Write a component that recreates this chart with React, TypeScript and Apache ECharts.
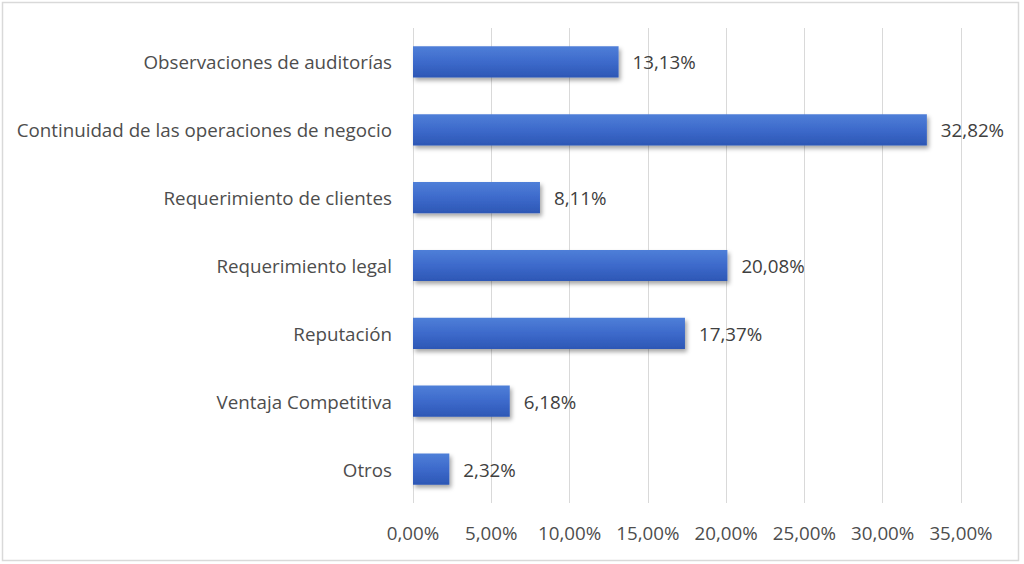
import React, { useEffect, useRef } from "react";
import * as echarts from "echarts";

const categories = [
  "Observaciones de auditorías",
  "Continuidad de las operaciones de negocio",
  "Requerimiento de clientes",
  "Requerimiento legal",
  "Reputación",
  "Ventaja Competitiva",
  "Otros",
];
const values = [13.13, 32.82, 8.11, 20.08, 17.37, 6.18, 2.32];
const axisMin = 0;
const axisMax = 35;
const axisStep = 5;

const pct = (v: number) => v.toFixed(2).replace(".", ",") + "%";

const FONT = "'Open Sans', Lato, sans-serif";
const TEXT = "#4d4d4d";
const SIZE = 18.75;

export default function App() {
  const ref = useRef<HTMLDivElement>(null);

  useEffect(() => {
    if (!ref.current) return;
    const chart = echarts.init(ref.current, undefined, { renderer: "svg" });
    chart.setOption({
      animation: false,
      backgroundColor: "#ffffff",
      textStyle: { fontFamily: FONT },
      graphic: [
        {
          type: "rect",
          shape: { x: 2.5, y: 2.5, width: 1016, height: 558 },
          style: { fill: "none", stroke: "#d9d9d9", lineWidth: 1.5 },
          silent: true,
        },
      ],
      grid: { left: 413, right: 63, top: 28, bottom: 61, containLabel: false },
      xAxis: {
        type: "value",
        min: axisMin,
        max: axisMax,
        interval: axisStep,
        axisLine: { show: false },
        axisTick: { show: false },
        splitLine: { show: true, lineStyle: { color: "#d9d9d9", width: 1 } },
        axisLabel: {
          formatter: (v: number) => pct(v),
          color: TEXT,
          fontSize: SIZE,
          fontFamily: FONT,
          margin: 20,
        },
      },
      yAxis: {
        type: "category",
        data: categories,
        inverse: true,
        axisLine: { show: false },
        axisTick: { show: false },
        axisLabel: {
          color: TEXT,
          fontSize: SIZE,
          fontFamily: FONT,
          margin: 21,
        },
      },
      series: [
        {
          type: "bar",
          data: values,
          barCategoryGap: "54%",
          itemStyle: {
            color: new echarts.graphic.LinearGradient(0, 0, 0, 1, [
              { offset: 0, color: "#4f7fd8" },
              { offset: 0.5, color: "#3d6acb" },
              { offset: 1, color: "#2d57b5" },
            ]),
            shadowColor: "rgba(0,0,0,0.35)",
            shadowBlur: 4,
            shadowOffsetX: 2,
            shadowOffsetY: 3,
          },
          label: {
            show: true,
            position: "right",
            distance: 14,
            formatter: (p: any) => pct(p.value),
            color: "#404040",
            fontSize: SIZE,
            fontFamily: FONT,
          },
        },
      ],
    });
    return () => chart.dispose();
  }, []);

  return (
    <div
      ref={ref}
      style={{ position: "fixed", left: 0, top: 0, width: 1024, height: 564 }}
    />
  );
}
